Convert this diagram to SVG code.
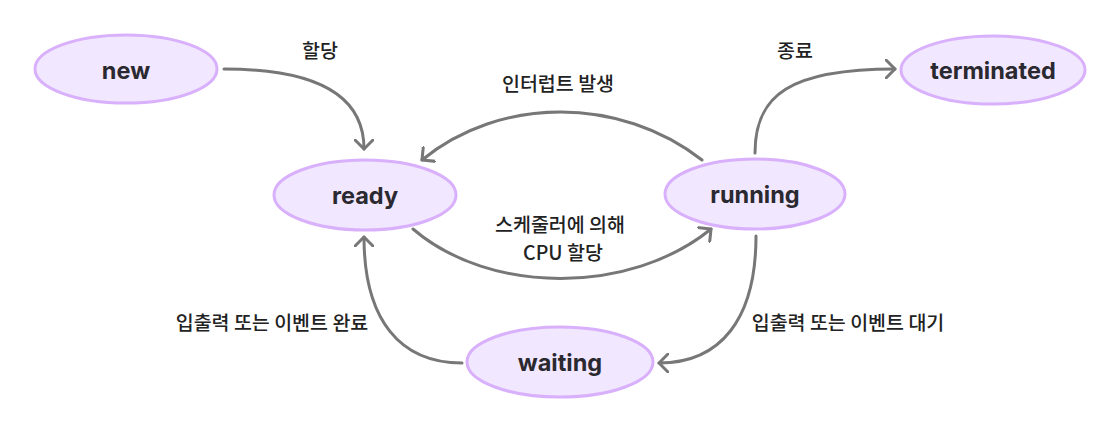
<svg xmlns="http://www.w3.org/2000/svg" width="1120" height="432" viewBox="0 0 1120 432">
<style>
.node ellipse{fill:#f1e7ff;stroke:#d9b0fb;stroke-width:3}
.node text{font-family:Inter,"Noto Sans","Liberation Sans",sans-serif;font-weight:700;font-size:23.5px;fill:#2b2930;text-anchor:middle;dominant-baseline:central}
.edge{fill:none;stroke:#777777;stroke-width:3;stroke-linecap:round;marker-end:url(#arr)}
.lbl{font-family:"Noto Sans CJK KR","Noto Sans",sans-serif;font-size:19.5px;font-weight:500;fill:#222222;text-anchor:middle;dominant-baseline:central}
</style>
<defs>
<marker id="arr" viewBox="0 0 20 20" refX="10" refY="10" markerWidth="20" markerHeight="20" markerUnits="userSpaceOnUse" orient="auto">
<path d="M0,0 L10,10 L0,20" fill="none" stroke="#777777" stroke-width="3" stroke-linecap="round" stroke-linejoin="round"/>
</marker>
</defs>
<rect width="1120" height="432" fill="#ffffff"/>
<g id="connectors">
<path class="edge" d="M224,69 C325,69 364,100 364,149"/>
<path class="edge" d="M702,160 C620,96 500,96 422,160"/>
<path class="edge" d="M413,229 C490,295 630,295 711,229"/>
<path class="edge" d="M755,153 C755,95 790,69 895,69"/>
<path class="edge" d="M756,236 C756,320 720,363 659,363"/>
<path class="edge" d="M462,363 C400,363 364,320 364,237"/>
</g>
<g id="labels">
<text class="lbl" x="320" y="49">할당</text>
<text class="lbl" x="558" y="82">인터럽트 발생</text>
<text class="lbl" x="795" y="49">종료</text>
<text class="lbl" x="560" y="223">스케줄러에 의해</text>
<text class="lbl" x="563" y="251">CPU 할당</text>
<text class="lbl" x="272" y="321">입출력 또는 이벤트 완료</text>
<text class="lbl" x="848" y="321">입출력 또는 이벤트 대기</text>
</g>
<g id="new" class="node"><ellipse cx="126" cy="69" rx="91" ry="34"/><text x="126" y="70">new</text></g>
<g id="ready" class="node"><ellipse cx="365" cy="195" rx="91" ry="35"/><text x="365" y="195">ready</text></g>
<g id="running" class="node"><ellipse cx="755" cy="194" rx="90" ry="35"/><text x="755" y="194">running</text></g>
<g id="waiting" class="node"><ellipse cx="560" cy="362" rx="93" ry="35"/><text x="560" y="362">waiting</text></g>
<g id="terminated" class="node"><ellipse cx="993" cy="70" rx="92" ry="34"/><text x="993" y="70">terminated</text></g>
</svg>
